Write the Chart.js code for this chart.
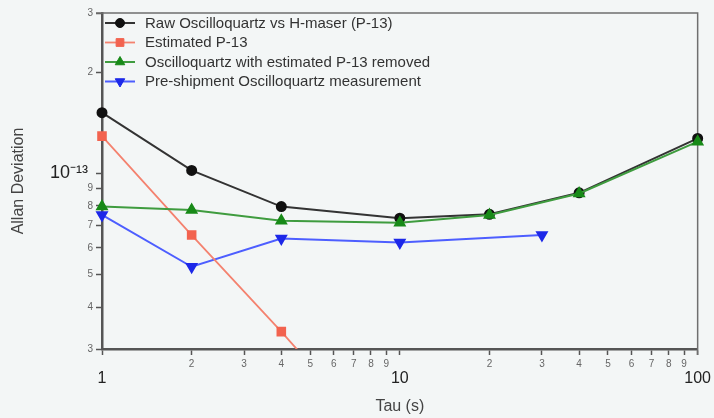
<!DOCTYPE html>
<html>
<head>
<meta charset="utf-8">
<title>Allan Deviation</title>
<script src="https://cdn.jsdelivr.net/npm/chart.js@4.4.1/dist/chart.umd.min.js"></script>
<style>
  html, body { margin: 0; padding: 0; background: #f3f6f6; }
  canvas { display: block; }
</style>
</head>
<body>
<canvas id="chart" width="714" height="418"></canvas>
<script>
// Values
const tauRaw = [1, 2, 4, 10, 20, 40, 100];
const rawDev = [1.515e-13, 1.02e-13, 7.96e-14, 7.35e-14, 7.55e-14, 8.75e-14, 1.27e-13];

const tauEst = [1, 2, 4, 10];
const estDev = [1.29e-13, 6.55e-14, 3.38e-14, 1.35e-14];

const tauRemoved = [1, 2, 4, 10, 20, 40, 100];
const removedDev = [7.96e-14, 7.78e-14, 7.23e-14, 7.13e-14, 7.52e-14, 8.71e-14, 1.242e-13];

const tauPre = [1, 2, 4, 10, 30];
const preDev = [7.52e-14, 5.27e-14, 6.4e-14, 6.22e-14, 6.55e-14];

const xTickValues = [1, 2, 3, 4, 5, 6, 7, 8, 9, 10, 20, 30, 40, 50, 60, 70, 80, 90, 100];
const yTickValues = [3e-14, 4e-14, 5e-14, 6e-14, 7e-14, 8e-14, 9e-14, 1e-13, 2e-13, 3e-13];

const FONT = '"Liberation Sans", Arial, Helvetica, sans-serif';

function pts(xs, ys) {
    return xs.map((x, i) => ({ x: x, y: ys[i] }));
}

function isDecade(v) {
    const e = Math.log10(v);
    return Math.abs(e - Math.round(e)) < 1e-6;
}

function mantissa(v) {
    return Math.round(v / Math.pow(10, Math.floor(Math.log10(v) + 1e-9)));
}

const edgeClip = { left: 8, right: 8, top: 8, bottom: 0 };

const bgPlugin = {
    id: 'bg',
    beforeDraw(chart) {
        const ctx = chart.ctx;
        ctx.save();
        ctx.fillStyle = '#f3f6f6';
        ctx.fillRect(0, 0, chart.width, chart.height);
        ctx.restore();
    }
};

// top and right frame lines
const framePlugin = {
    id: 'frame',
    beforeDatasetsDraw(chart) {
        const { left, right, top, bottom } = chart.chartArea;
        const ctx = chart.ctx;
        ctx.save();
        ctx.strokeStyle = '#6f6f6f';
        ctx.lineWidth = 1.5;
        ctx.beginPath();
        ctx.moveTo(left - 6, top);
        ctx.lineTo(right, top);
        ctx.lineTo(right, bottom + 6);
        ctx.stroke();
        ctx.restore();
    }
};

const legendPlugin = {
    id: 'insideLegend',
    afterDatasetsDraw(chart) {
        const ctx = chart.ctx;
        const left = chart.chartArea.left;
        chart.data.datasets.forEach((ds, i) => {
            const y = chart.chartArea.top + 10 + i * 19.5;
            ctx.save();
            ctx.strokeStyle = ds.borderColor;
            ctx.lineWidth = ds.borderWidth;
            ctx.beginPath();
            ctx.moveTo(left + 3, y);
            ctx.lineTo(left + 33, y);
            ctx.stroke();
            ctx.fillStyle = ds.pointBackgroundColor;
            ctx.strokeStyle = ds.pointBorderColor;
            ctx.lineWidth = 1;
            Chart.helpers.drawPoint(ctx, {
                pointStyle: ds.pointStyle,
                rotation: ds.pointRotation || 0,
                radius: ds.pointRadius,
                borderWidth: 1
            }, left + 18, y);
            ctx.fillStyle = '#333';
            ctx.font = '15px ' + FONT;
            ctx.textBaseline = 'middle';
            ctx.textAlign = 'left';
            ctx.fillText(ds.label, left + 43, y + 0.5);
            ctx.restore();
        });
    }
};

new Chart(document.getElementById('chart'), {
    type: 'line',
    data: {
        datasets: [
            {
                label: 'Raw Oscilloquartz vs H-maser (P-13)',
                data: pts(tauRaw, rawDev),
                borderColor: '#333333',
                borderWidth: 2,
                pointStyle: 'circle',
                pointRadius: 4.5,
                pointBackgroundColor: '#111111',
                pointBorderColor: '#111111',
                clip: edgeClip,
                order: 1
            },
            {
                label: 'Estimated P-13',
                data: pts(tauEst, estDev),
                borderColor: '#f4826f',
                borderWidth: 1.8,
                pointStyle: 'rect',
                pointRadius: 5.5,
                pointBackgroundColor: '#f2634f',
                pointBorderColor: '#f2634f',
                clip: edgeClip,
                order: 2
            },
            {
                label: 'Oscilloquartz with estimated P-13 removed',
                data: pts(tauRemoved, removedDev),
                borderColor: '#3f9c3f',
                borderWidth: 2,
                pointStyle: 'triangle',
                pointRadius: 5.5,
                pointBackgroundColor: '#188a18',
                pointBorderColor: '#188a18',
                clip: edgeClip,
                order: 0
            },
            {
                label: 'Pre-shipment Oscilloquartz measurement',
                data: pts(tauPre, preDev),
                borderColor: '#4d5eff',
                borderWidth: 2,
                pointStyle: 'triangle',
                pointRotation: 180,
                pointRadius: 5.5,
                pointBackgroundColor: '#1d28e8',
                pointBorderColor: '#1d28e8',
                clip: edgeClip,
                order: 3
            }
        ]
    },
    options: {
        responsive: false,
        animation: false,
        events: [],
        layout: { padding: { top: 13, right: 16, left: 0, bottom: 0 } },
        plugins: {
            legend: { display: false },
            tooltip: { enabled: false }
        },
        elements: { line: { tension: 0 } },
        scales: {
            x: {
                type: 'logarithmic',
                min: 1,
                max: 100,
                afterBuildTicks: s => { s.ticks = xTickValues.map(v => ({ value: v })); },
                afterFit: s => { s.height = 69; },
                grid: { display: true, drawOnChartArea: false, drawTicks: true, tickLength: 6, tickColor: '#555', tickWidth: 1.5 },
                border: { display: true, color: '#555', width: 2.5 },
                ticks: {
                    autoSkip: false,
                    maxRotation: 0,
                    padding: 3,
                    callback: v => isDecade(v) ? ['', String(v)] : String(mantissa(v)),
                    font: c => isDecade(c.tick.value)
                        ? { family: FONT, size: 16, lineHeight: 0.84 }
                        : { family: FONT, size: 10, lineHeight: 1.2 },
                    color: c => isDecade(c.tick.value) ? '#222' : '#666'
                },
                title: {
                    display: true,
                    text: 'Tau (s)',
                    color: '#444',
                    font: { family: FONT, size: 16 },
                    padding: { top: 0, bottom: 2 }
                }
            },
            y: {
                type: 'logarithmic',
                min: 3e-14,
                max: 3e-13,
                afterBuildTicks: s => { s.ticks = yTickValues.map(v => ({ value: v })); },
                afterFit: s => { s.width = 102; },
                grid: { display: true, drawOnChartArea: false, drawTicks: true, tickLength: 6, tickColor: '#555', tickWidth: 1.5 },
                border: { display: true, color: '#555', width: 2.5 },
                ticks: {
                    autoSkip: false,
                    padding: 3,
                    callback: v => isDecade(v) ? '10\u207B\u00B9\u00B3 ' : String(mantissa(v)),
                    font: c => isDecade(c.tick.value)
                        ? { family: FONT, size: 18 }
                        : { family: FONT, size: 10 },
                    color: c => isDecade(c.tick.value) ? '#222' : '#666'
                },
                title: {
                    display: true,
                    text: 'Allan Deviation',
                    color: '#444',
                    font: { family: FONT, size: 16 },
                    padding: { top: 9, bottom: 0 }
                }
            }
        }
    },
    plugins: [bgPlugin, framePlugin, legendPlugin]
});
</script>
</body>
</html>
